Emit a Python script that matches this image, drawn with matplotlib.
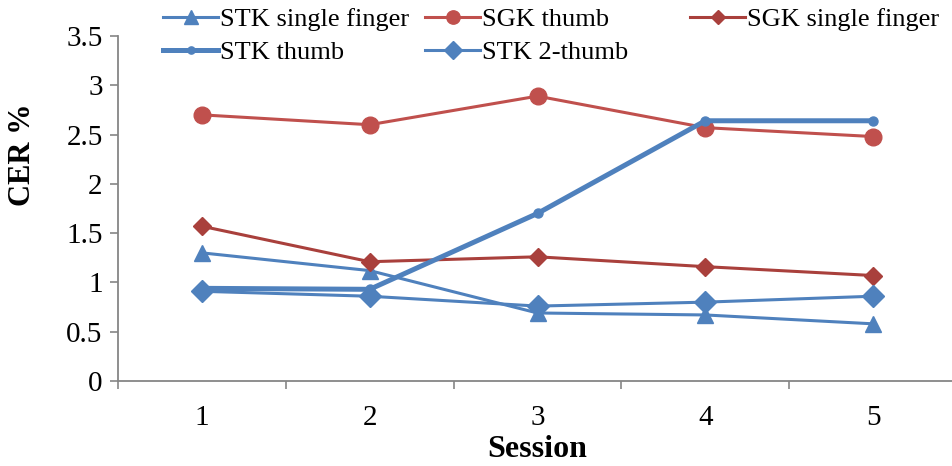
import numpy as np
import matplotlib
matplotlib.use("Agg")
import matplotlib.pyplot as plt

plt.rcParams['font.family'] = ['Liberation Serif', 'DejaVu Serif']

# ====================== data ======================
sessions = [1, 2, 3, 4, 5]
stk_single = [1.30, 1.12, 0.69, 0.67, 0.58]
sgk_thumb = [2.70, 2.60, 2.89, 2.57, 2.48]
sgk_single = [1.57, 1.21, 1.26, 1.16, 1.07]
stk_thumb = [0.94, 0.93, 1.70, 2.64, 2.64]
stk_2thumb = [0.91, 0.86, 0.76, 0.80, 0.86]
yticks = [0, 0.5, 1, 1.5, 2, 2.5, 3, 3.5]
ytick_labels = ["0", "0.5", "1", "1.5", "2", "2.5", "3", "3.5"]

blue = "#4F81BD"
red = "#C0504D"
dred = "#A9403C"

fig = plt.figure(figsize=(9.52, 4.66), dpi=100)
ax = fig.add_axes([118/952, 85/466, 839/952, 345/466])

l_stk_single, = ax.plot(sessions, stk_single, color=blue, lw=2.2, marker="^", ms=12, label="STK single finger")
l_sgk_thumb, = ax.plot(sessions, sgk_thumb, color=red, lw=2.2, marker="o", ms=12, label="SGK thumb")
l_sgk_single, = ax.plot(sessions, sgk_single, color=dred, lw=2.2, marker="D", ms=9, label="SGK single finger")
l_stk_thumb, = ax.plot(sessions, stk_thumb, color=blue, lw=3.6, marker="o", ms=6.5, label="STK thumb")
l_stk_2thumb, = ax.plot(sessions, stk_2thumb, color=blue, lw=2.2, marker="D", ms=11, label="STK 2-thumb")

ax.set_xlim(0.5, 5.5)
ax.set_ylim(0, 3.5)
ax.set_yticks(yticks)
ax.set_yticklabels(ytick_labels)
ax.set_xticks(sessions)
ax.set_xticks(np.arange(0.5, 5.6, 1), minor=True)
ax.tick_params(axis="x", which="major", length=0, pad=17, labelsize=21)
ax.tick_params(axis="x", which="minor", length=6, color="#868686", width=1.2)
ax.tick_params(axis="y", length=6, color="#868686", width=1.2, labelsize=21, pad=5)

for s in ["top", "right"]:
    ax.spines[s].set_visible(False)
for s in ["left", "bottom"]:
    ax.spines[s].set_color("#868686")
    ax.spines[s].set_linewidth(1.3)

ax.set_xlabel("Session", fontsize=23, fontweight="bold", labelpad=3)
ax.set_ylabel("CER %", fontsize=22, fontweight="bold")
ax.yaxis.set_label_coords(-0.097, 0.655)

# legend split in three columns like the original
leg_kw = dict(frameon=False, fontsize=19, handlelength=2.1, handletextpad=0.05,
              labelspacing=0.35, borderaxespad=0, borderpad=0, markerscale=0.8)
leg1 = fig.legend(handles=[l_stk_single, l_stk_thumb], loc="upper left",
                  bbox_to_anchor=(163/952, 0.983), **leg_kw)
leg2 = fig.legend(handles=[l_sgk_thumb, l_stk_2thumb], loc="upper left",
                  bbox_to_anchor=(425/952, 0.983), **leg_kw)
leg3 = fig.legend(handles=[l_sgk_single], loc="upper left",
                  bbox_to_anchor=(690/952, 0.983), **leg_kw)

fig.savefig("out.png", dpi=100)
